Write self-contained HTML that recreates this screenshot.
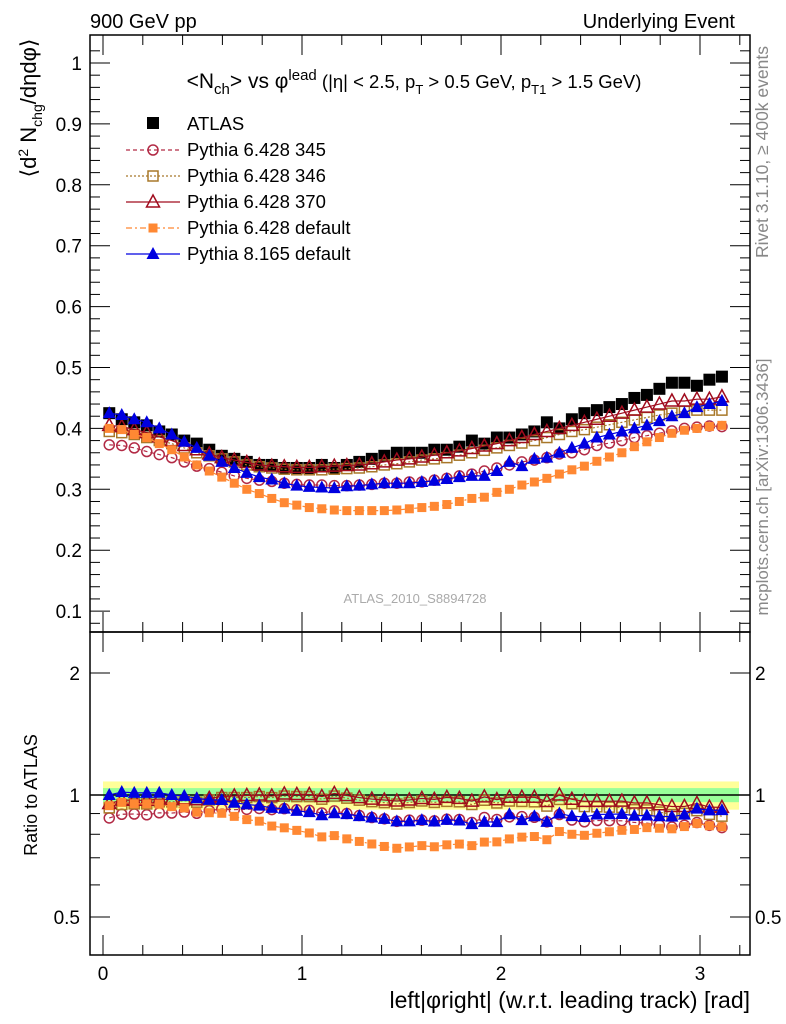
<!DOCTYPE html>
<html><head><meta charset="utf-8"><style>
body{margin:0;background:#fff}
svg{display:block;font-family:"Liberation Sans",sans-serif}
</style></head><body>
<svg id="c" width="786" height="1024" viewBox="0 0 786 1024">
<rect width="786" height="1024" fill="#fff"/>
<text x="90" y="28" font-size="20">900 GeV pp</text>
<text x="735" y="28" font-size="20" text-anchor="end">Underlying Event</text>
<text x="414" y="88" font-size="21" text-anchor="middle">&lt;N<tspan font-size="15" dy="6">ch</tspan><tspan dy="-6">&gt; vs φ</tspan><tspan font-size="15" dy="-8">lead</tspan><tspan dy="8" font-size="18.5"> (|η| &lt; 2.5, p</tspan><tspan font-size="13" dy="6">T</tspan><tspan dy="-6" font-size="18.5"> &gt; 0.5 GeV, p</tspan><tspan font-size="13" dy="6">T1</tspan><tspan dy="-6" font-size="18.5"> &gt; 1.5 GeV)</tspan></text>
<text transform="translate(768,152) rotate(-90)" font-size="17.5" fill="#888" text-anchor="middle">Rivet 3.1.10, ≥ 400k events</text>
<text transform="translate(768,487) rotate(-90)" font-size="17" fill="#888" text-anchor="middle">mcplots.cern.ch [arXiv:1306.3436]</text>
<text x="415" y="603" font-size="13" fill="#aaa" text-anchor="middle">ATLAS_2010_S8894728</text>
<text transform="translate(36,108) rotate(-90)" font-size="22" text-anchor="middle">⟨d<tspan font-size="14" dy="-8">2</tspan><tspan dy="8"> N</tspan><tspan font-size="14" dy="6">chg</tspan><tspan dy="-6">/dηdφ⟩</tspan></text>
<text transform="translate(37,795) rotate(-90)" font-size="18" text-anchor="middle">Ratio to ATLAS</text>
<text x="750" y="1008" font-size="23" text-anchor="end">left|φright| (w.r.t. leading track) [rad]</text>
<g id="g"></g>
</svg>
<script>
const xCenters=[];for(let i=0;i<50;i++)xCenters.push((i+0.5)*Math.PI/50);
const atlas=[0.425,0.415,0.41,0.405,0.395,0.39,0.38,0.375,0.365,0.355,0.35,0.345,0.34,0.34,0.335,0.335,0.335,0.34,0.335,0.34,0.345,0.35,0.355,0.36,0.36,0.36,0.365,0.365,0.37,0.38,0.375,0.385,0.385,0.39,0.395,0.41,0.4,0.415,0.425,0.43,0.435,0.44,0.45,0.455,0.465,0.475,0.475,0.47,0.48,0.485];
const py345=[0.373,0.372,0.368,0.362,0.357,0.352,0.345,0.338,0.334,0.328,0.322,0.318,0.315,0.313,0.31,0.308,0.307,0.307,0.306,0.306,0.307,0.308,0.31,0.31,0.312,0.312,0.315,0.318,0.322,0.325,0.33,0.335,0.34,0.345,0.348,0.352,0.358,0.36,0.365,0.372,0.376,0.38,0.385,0.388,0.392,0.396,0.4,0.402,0.404,0.403];
const py346=[0.395,0.393,0.39,0.385,0.38,0.375,0.368,0.36,0.355,0.35,0.345,0.34,0.337,0.335,0.333,0.332,0.332,0.332,0.333,0.334,0.335,0.337,0.34,0.342,0.345,0.348,0.35,0.352,0.356,0.36,0.364,0.368,0.372,0.376,0.38,0.385,0.39,0.395,0.398,0.402,0.406,0.41,0.414,0.418,0.422,0.425,0.428,0.43,0.43,0.43];
const py370=[0.405,0.403,0.398,0.393,0.386,0.38,0.372,0.365,0.358,0.352,0.348,0.344,0.34,0.338,0.337,0.336,0.336,0.337,0.338,0.339,0.34,0.342,0.345,0.348,0.35,0.353,0.356,0.36,0.363,0.367,0.371,0.375,0.38,0.385,0.39,0.395,0.4,0.405,0.41,0.415,0.42,0.425,0.43,0.435,0.44,0.445,0.445,0.448,0.448,0.452];
const pyDef=[0.4,0.398,0.39,0.385,0.375,0.365,0.353,0.34,0.33,0.32,0.31,0.3,0.293,0.285,0.278,0.274,0.27,0.268,0.266,0.265,0.265,0.265,0.265,0.266,0.268,0.27,0.272,0.275,0.28,0.285,0.287,0.295,0.3,0.307,0.312,0.318,0.325,0.332,0.338,0.346,0.353,0.36,0.37,0.378,0.385,0.392,0.397,0.4,0.403,0.405];
const py8=[0.425,0.422,0.415,0.41,0.4,0.39,0.378,0.368,0.355,0.345,0.335,0.327,0.32,0.316,0.31,0.306,0.304,0.303,0.302,0.305,0.306,0.308,0.31,0.31,0.31,0.312,0.314,0.317,0.32,0.322,0.322,0.33,0.345,0.338,0.35,0.352,0.36,0.368,0.375,0.385,0.39,0.395,0.4,0.405,0.412,0.42,0.425,0.435,0.44,0.445];
const mainTicks=[0.1,0.2,0.3,0.4,0.5,0.6,0.7,0.8,0.9,1];
const xTicks=[0,1,2,3];
const ratioTicks=[0.5,1,2];
const bandGreen=0.04, bandYellow=0.08;

const NS='http://www.w3.org/2000/svg';
const g=document.getElementById('g');
function el(t,a,p){const e=document.createElementNS(NS,t);for(const k in a)e.setAttribute(k,a[k]);(p||g).appendChild(e);return e;}
const L=90,R=750,T=35,M=632,B=955;
const X=v=>103+v*199;
const Y=v=>63+(1-v)*609;
const YR=v=>795-Math.log2(v)*122;

const gy=el('rect',{x:103,y:YR(1+bandYellow),width:636,height:YR(1-bandYellow)-YR(1+bandYellow),fill:'#ffff99'});


const gg=el('rect',{x:103,y:YR(1+bandGreen),width:636,height:YR(1-bandGreen)-YR(1+bandGreen),fill:'#99ff99'});


el('line',{x1:L,x2:R,y1:YR(1),y2:YR(1),stroke:'#000','stroke-width':1.5});

const f1=el('rect',{x:L,y:T,width:R-L,height:M-T,fill:'none',stroke:'#000','stroke-width':1.5});


const f2=el('rect',{x:L,y:M,width:R-L,height:B-M,fill:'none',stroke:'#000','stroke-width':1.5});



for(let v=0.08;v<=1.04;v+=0.02){const vv=Math.round(v*100)/100;const maj=Math.abs(vv*10-Math.round(vv*10))<1e-6;const len=maj?20:10;const y=Y(vv);if(y<T||y>M)continue;
el('line',{x1:L,x2:L+len,y1:y,y2:y,stroke:'#000'});el('line',{x1:R-len,x2:R,y1:y,y2:y,stroke:'#000'});}
mainTicks.forEach(v=>{const t=el('text',{x:L-8,y:Y(v)+7,'font-size':19,'text-anchor':'end'});t.textContent=String(v);

});
[0.5,0.6,0.7,0.8,0.9,1,2].forEach(v=>{const maj=ratioTicks.includes(v);const len=maj?20:10;const y=YR(v);
el('line',{x1:L,x2:L+len,y1:y,y2:y,stroke:'#000'});el('line',{x1:R-len,x2:R,y1:y,y2:y,stroke:'#000'});});
ratioTicks.forEach(v=>{const t=el('text',{x:L-10,y:YR(v)+7,'font-size':19,'text-anchor':'end'});t.textContent=String(v);


const t2=el('text',{x:R+5,y:YR(v)+7,'font-size':19});t2.textContent=String(v);

});
for(let k=0;k<=16;k++){const v=k*0.2;const x=X(v);if(x>R)break;const maj=k%5==0;const len=maj?20:10;
[[T,1],[M,1],[M,-1],[B,-1]].forEach(([y0,d])=>el('line',{x1:x,x2:x,y1:y0,y2:y0+d*len,stroke:'#000'}));}
xTicks.forEach(v=>{const t=el('text',{x:X(v),y:980,'font-size':19,'text-anchor':'middle'});t.textContent=String(v);

});

function marker(kind,col,x,y,parent,s){s=s||6;
if(kind=='fsq')return el('rect',{x:x-s,y:y-s,width:2*s,height:2*s,fill:col},parent);
if(kind=='fsqs')return el('rect',{x:x-4.5,y:y-4.5,width:9,height:9,fill:col},parent);
if(kind=='osq')return el('rect',{x:x-5,y:y-5,width:10,height:10,fill:'none',stroke:col,'stroke-width':1.5},parent);
if(kind=='oc')return el('circle',{cx:x,cy:y,r:5,fill:'none',stroke:col,'stroke-width':1.5},parent);
if(kind=='otri')return el('polygon',{points:`${x},${y-7} ${x-6.5},${y+5} ${x+6.5},${y+5}`,fill:'none',stroke:col,'stroke-width':1.5},parent);
if(kind=='ftri')return el('polygon',{points:`${x},${y-7} ${x-6.5},${y+5} ${x+6.5},${y+5}`,fill:col},parent);}

const series=[
 {name:'py345',d:py345,col:'#b22a45',k:'oc',dash:'4,3',lbl:'Pythia 6.428 345'},
 {name:'py346',d:py346,col:'#a8782a',k:'osq',dash:'2,2',lbl:'Pythia 6.428 346'},
 {name:'py370',d:py370,col:'#a00c1e',k:'otri',dash:'',lbl:'Pythia 6.428 370'},
 {name:'py-default',d:pyDef,col:'#ff8833',k:'fsqs',dash:'6,3,2,3',lbl:'Pythia 6.428 default'},
 {name:'py8-default',d:py8,col:'#0000e0',k:'ftri',dash:'',lbl:'Pythia 8.165 default'}];

const ga=el('g',{});
atlas.forEach((v,i)=>{const m=marker('fsq','#000',X(xCenters[i]),Y(v),ga);

});
series.forEach(s=>{
 const gm=el('g',{});
 el('polyline',{points:s.d.map((v,i)=>X(xCenters[i])+','+Y(v)).join(' '),fill:'none',stroke:s.col,'stroke-width':1.2,'stroke-dasharray':s.dash},gm);
 s.d.forEach((v,i)=>{const m=marker(s.k,s.col,X(xCenters[i]),Y(v),gm);
 
 });
 const gr=el('g',{});
 el('polyline',{points:s.d.map((v,i)=>X(xCenters[i])+','+YR(v/atlas[i])).join(' '),fill:'none',stroke:s.col,'stroke-width':1.2,'stroke-dasharray':s.dash},gr);
 s.d.forEach((v,i)=>{const m=marker(s.k,s.col,X(xCenters[i]),YR(v/atlas[i]),gr);
 
 });
});

const lg=el('g',{});
const e0=el('g',{},lg);
marker('fsq','#000',153,123,e0);const t0=el('text',{x:187,y:130,'font-size':18.5},e0);t0.textContent='ATLAS';
series.forEach((s,j)=>{const y=150+j*26;const e=el('g',{},lg);
el('line',{x1:126,x2:180,y1:y,y2:y,stroke:s.col,'stroke-width':1.2,'stroke-dasharray':s.dash},e);
marker(s.k,s.col,153,y,e);const t=el('text',{x:187,y:y+6,'font-size':18.5},e);t.textContent=s.lbl;});
</script>
</body></html>
